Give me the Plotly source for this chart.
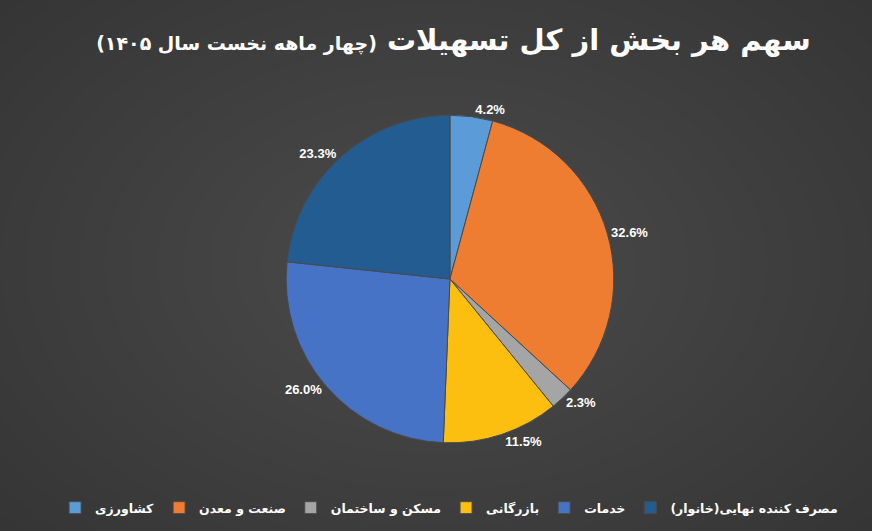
import plotly.graph_objects as go

# --- DATA ---
sectors = ["کشاورزی", "صنعت و معدن", "مسکن و ساختمان", "بازرگانی", "خدمات", "مصرف کننده نهایی(خانوار)"]
shares = [4.2, 32.6, 2.3, 11.5, 26.0, 23.3]
colors = ["#5b9bd8", "#ef7d31", "#a5a5a5", "#fcbf0f", "#4673c6", "#235c90"]

title_main = "سهم هر بخش از کل تسهیلات"
title_sub = "(چهار ماهه نخست سال ۱۴۰۵)"

fig = go.Figure()

fig.add_trace(go.Pie(
    labels=sectors,
    values=shares,
    sort=False,
    direction="clockwise",
    rotation=0,
    marker=dict(colors=colors, line=dict(color="#4a4a4a", width=1)),
    texttemplate="%{value:.1f}%",
    textposition="outside",
    outsidetextfont=dict(color="white", size=13, family="Liberation Sans", weight="bold"),
    domain=dict(x=[0.328, 0.704], y=[0.166, 0.783]),
    hoverinfo="label+percent",
))

# fondo con sombreado radial (más claro hacia el centro)
shapes = []
n_rings = 24
for i in range(n_rings):
    sx = 0.80 - i * 0.03
    sy = 0.90 - i * 0.034
    shapes.append(dict(
        type="circle", xref="paper", yref="paper", layer="below",
        x0=0.5 - sx, x1=0.5 + sx, y0=0.5 - sy, y1=0.5 + sy,
        fillcolor="rgba(255,255,255,0.0085)", line=dict(width=0),
    ))

fig.update_layout(
    width=872,
    height=531,
    paper_bgcolor="#303030",
    plot_bgcolor="rgba(0,0,0,0)",
    margin=dict(l=0, r=0, t=0, b=0),
    shapes=shapes,
    title=dict(
        text="<b>" + title_main + " <span style='font-size:19px'>" + title_sub + "</span></b>",
        x=0.52, y=0.925, xanchor="center", yanchor="middle",
        font=dict(color="white", size=29, family="DejaVu Sans"),
    ),
    legend=dict(
        orientation="h",
        x=0.515, y=0.015, xanchor="center", yanchor="bottom",
        bgcolor="rgba(0,0,0,0)",
        font=dict(color="white", size=12.5, family="DejaVu Sans", weight="bold"),
        itemwidth=30,
        traceorder="normal",
    ),
    showlegend=True,
)

fig.write_html(
    "out.html",
    config={"displayModeBar": False},
    post_script="document.body.style.margin='0';",
)
